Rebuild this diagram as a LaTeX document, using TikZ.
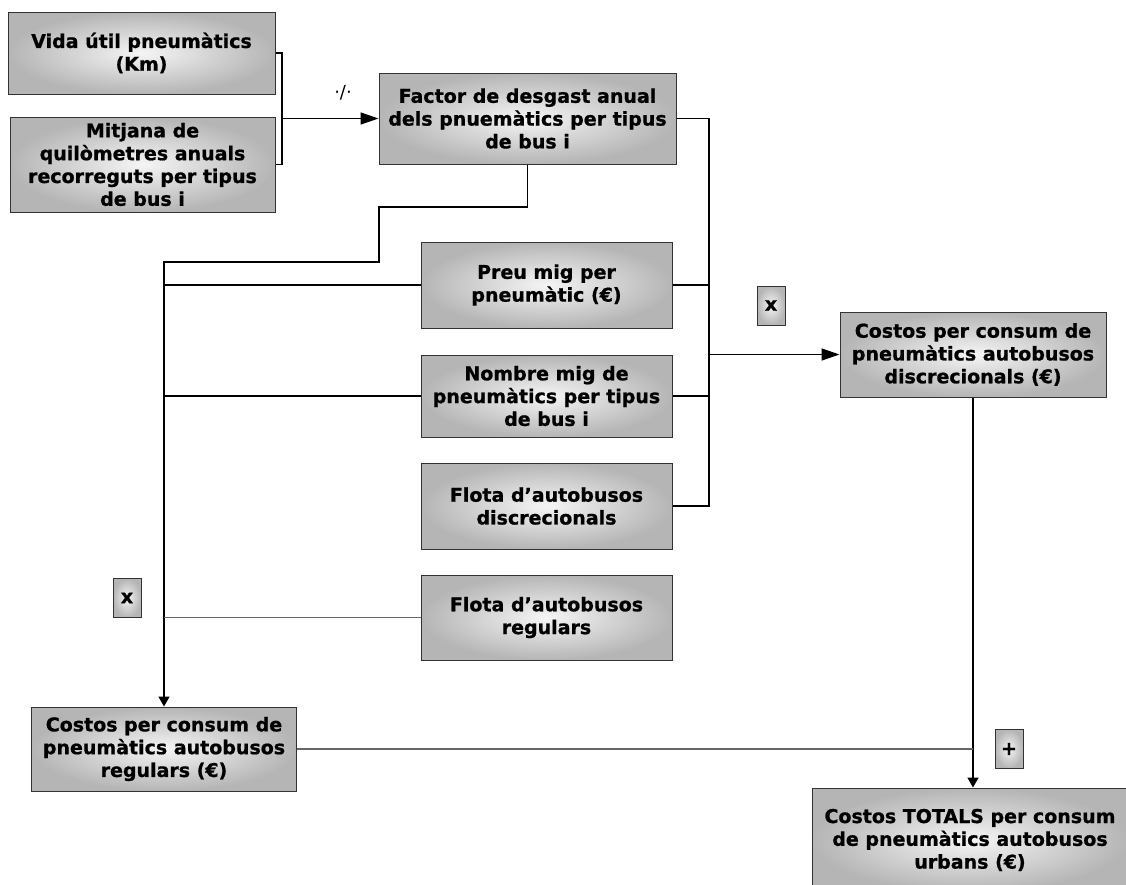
\documentclass[tikz,border=0pt]{standalone}
\usepackage{fontspec}
\setmainfont{DejaVu Sans}
\newfontfamily\heavyfont{DejaVu Sans Bold}[FakeBold=0.9]
\usetikzlibrary{arrows.meta}
\begin{document}
\begin{tikzpicture}[x=1pt,y=1pt,
  box/.style={draw=black!80, line width=1pt, shading=radial,
    inner color=white!96!black, outer color=black!29,
    align=center, font=\heavyfont\fontsize{19}{22.8}\selectfont,
    inner sep=0pt, minimum width=#1},
  box/.default=265pt,
  opbox/.style={draw=black!80, line width=1pt, shading=radial,
    inner color=white!96!black, outer color=black!29,
    font=\heavyfont\fontsize{19}{20}\selectfont, inner sep=0pt,
    minimum width=28pt, minimum height=39pt},
  link/.style={line width=1.5pt, black},
  faint/.style={line width=1.1pt, black!60},
  harrow/.style={link, -{Triangle[length=18pt,width=12pt]}},
  varrow/.style={link, -{Triangle[length=10pt,width=11pt]}}]
\clip (0,0) rectangle (1126,-884);
\fill[white] (0,0) rectangle (1126,-884);

% inputs on the left
\node[box=267pt, minimum height=82pt] (vida) at (141.5,-53) {Vida útil pneumàtics\\(Km)};
\node[box=265pt, minimum height=95pt] (mitj) at (142.5,-164.5) {Mitjana de\\quilòmetres anuals\\recorreguts per tipus\\de bus i};

% wear factor
\node[box=297pt, minimum height=91pt] (factor) at (527.5,-118.5) {Factor de desgast anual\\dels pnuemàtics per tipus\\de bus i};

% middle column
\node[box=251pt, minimum height=86pt] (preu) at (546.5,-285) {Preu mig per\\pneumàtic (€)};
\node[box=251pt, minimum height=82pt] (nombre) at (546.5,-396) {Nombre mig de\\pneumàtics per tipus\\de bus i};
\node[box=251pt, minimum height=86pt] (flotad) at (546.5,-506) {Flota d’autobusos\\discrecionals};
\node[box=251pt, minimum height=85pt] (flotar) at (546.5,-617.5) {Flota d’autobusos\\regulars};

% results
\node[box=266pt, minimum height=85pt] (costd) at (973,-354.5) {Costos per consum de\\pneumàtics autobusos\\discrecionals (€)};
\node[box=265pt, minimum height=84pt] (costr) at (164,-749) {Costos per consum de\\pneumàtics autobusos\\regulars (€)};
\node[box=316pt, minimum height=104pt] (tot) at (970,-840) {Costos TOTALS per consum\\de pneumàtics autobusos\\urbans (€)};

% operators
\node[opbox] (opx1) at (771,-305.5) {x};
\node[opbox] (opx2) at (127,-598) {x};
\node[opbox] (opplus) at (1009,-749) {+};
\node[font=\fontsize{18}{20}\selectfont, inner sep=0pt] (opdiv) at (343,-93) {·/·};

% division of the two inputs
\coordinate (j1) at (282,-118.5);
\draw[link] (vida.east) -| (j1);
\draw[link] (mitj.east) -| (j1);
\draw[harrow] (j1) -- (factor.west);

% product for the discretionary fleet
\coordinate (r2) at (709,-506);
\draw[link] (factor.east) -| (r2) -- (flotad.east);
\draw[link] (preu.east) -- (preu.east -| r2);
\draw[link] (nombre.east) -- (nombre.east -| r2);
\draw[harrow] (costd.west -| r2) -- (costd.west);

% product for the regular fleet
\coordinate (k1) at (379,-207);
\coordinate (k2) at (164,-262);
\draw[varrow] (factor.south) |- (k1) |- (k2) -- (costr.north);
\draw[link] (preu.west) -- (preu.west -| costr.north);
\draw[link] (nombre.west) -- (nombre.west -| costr.north);
\draw[faint] (flotar.west) -- (flotar.west -| costr.north);

% sum of both costs
\draw[varrow] (costd.south) -- (costd.south |- tot.north);
\draw[faint] (costr.east) -- (costr.east -| costd.south);
\end{tikzpicture}
\end{document}
